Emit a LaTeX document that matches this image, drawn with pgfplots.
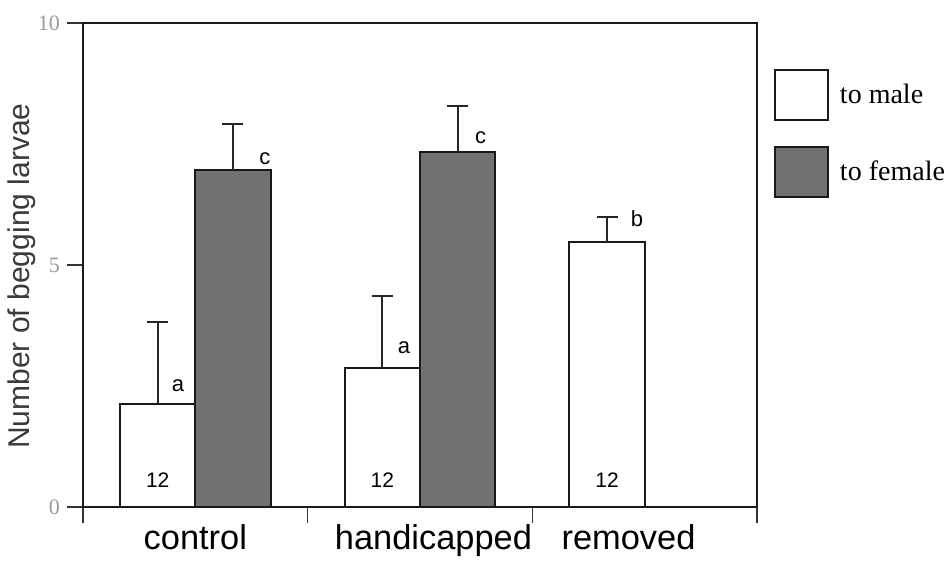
\documentclass[border=0pt]{standalone}
\usepackage{pgfplots}
\pgfplotsset{compat=1.18}
\usepackage{fontspec}
\setmainfont{Liberation Serif}
\newfontfamily\arial{Liberation Sans}
\definecolor{barfill}{HTML}{717171}
\definecolor{ticklab}{HTML}{9A9A9A}
\definecolor{ylab}{HTML}{3A3A3A}
\begin{document}
\begin{tikzpicture}
\useasboundingbox (-41.5pt,-27pt) rectangle (433pt,253.5pt);
\begin{axis}[
  ybar, bar width=0.335,
  at={(0pt,0pt)}, anchor=south west,
  scale only axis, width=337pt, height=242pt,
  xmin=-0.5, xmax=2.5, ymin=0, ymax=10,
  clip=false,
  axis line style={line width=1.2pt, black!90},
  ytick={0,5,10}, ytick pos=left,
  y tick label style={font=\fontsize{11}{12}\selectfont, text=ticklab},
  /pgf/number format/assume math mode=true,
  ytick style={line width=0.6pt, black!80},
  xtick={-0.5,0.5,1.5,2.5}, xticklabels={}, xtick pos=bottom,
  xtick style={line width=0.6pt, black!80},
  tick align=outside, major tick length=8pt,
  ylabel={Number of begging larvae},
  ylabel style={at={(axis description cs:-0.0905,0.477)}, anchor=center, font=\arial\fontsize{15}{16}\selectfont, text=ylab},
  legend style={at={(axis description cs:1,1)}, anchor=north west, xshift=8.5pt, yshift=-23pt,
    draw=none, fill=none, inner sep=0pt, outer sep=0pt, row sep=12.5pt, column sep=5.5pt,
    font=\fontsize{14}{16}\selectfont, nodes={inner sep=0pt, outer sep=0pt}},
  legend cell align=left,
  legend image code/.code={\draw[#1, line width=1pt] (0pt,-12.5pt) rectangle (26.5pt,12.5pt);},
]
\addplot[bar shift=0pt, fill=white, draw=black!90, line width=1pt,
  error bars/.cd, y dir=plus, y explicit,
  error bar style={line width=1pt, black!85},
  error mark options={rotate=90, black!85, line width=1pt, mark size=5.25pt}]
  coordinates {(-0.1675,2.13) +- (0,1.69) (0.8325,2.87) +- (0,1.49) (1.8325,5.48) +- (0,0.51)};
\addplot[bar shift=0pt, fill=barfill, draw=black!90, line width=1pt,
  error bars/.cd, y dir=plus, y explicit,
  error bar style={line width=1pt, black!85},
  error mark options={rotate=90, black!85, line width=1pt, mark size=5.25pt}]
  coordinates {(0.1675,6.96) +- (0,0.95) (1.1675,7.33) +- (0,0.96)};
\legend{to male, to female}
% significance letters
\node[font=\arial\fontsize{11}{12}\selectfont] at (axis cs:-0.077,2.50) {a};
\node[font=\arial\fontsize{11}{12}\selectfont] at (axis cs:0.31,7.19) {c};
\node[font=\arial\fontsize{11}{12}\selectfont] at (axis cs:0.929,3.29) {a};
\node[font=\arial\fontsize{11}{12}\selectfont] at (axis cs:1.27,7.62) {c};
\node[font=\arial\fontsize{11}{12}\selectfont] at (axis cs:1.966,5.95) {b};
% sample sizes
\node[font=\arial\fontsize{10.5}{12}\selectfont] at (axis cs:-0.1675,0.56) {12};
\node[font=\arial\fontsize{10.5}{12}\selectfont] at (axis cs:0.8325,0.56) {12};
\node[font=\arial\fontsize{10.5}{12}\selectfont] at (axis cs:1.8325,0.56) {12};
% category labels
\node[anchor=base, font=\arial\fontsize{17.2}{19}\selectfont] at (axis cs:0,0) [yshift=-21.5pt] {control};
\node[anchor=base, font=\arial\fontsize{17.2}{19}\selectfont] at (axis cs:1.06,0) [yshift=-21.5pt] {handicapped};
\node[anchor=base, font=\arial\fontsize{17.2}{19}\selectfont] at (axis cs:1.928,0) [yshift=-21.5pt] {removed};
\end{axis}
\end{tikzpicture}
\end{document}
